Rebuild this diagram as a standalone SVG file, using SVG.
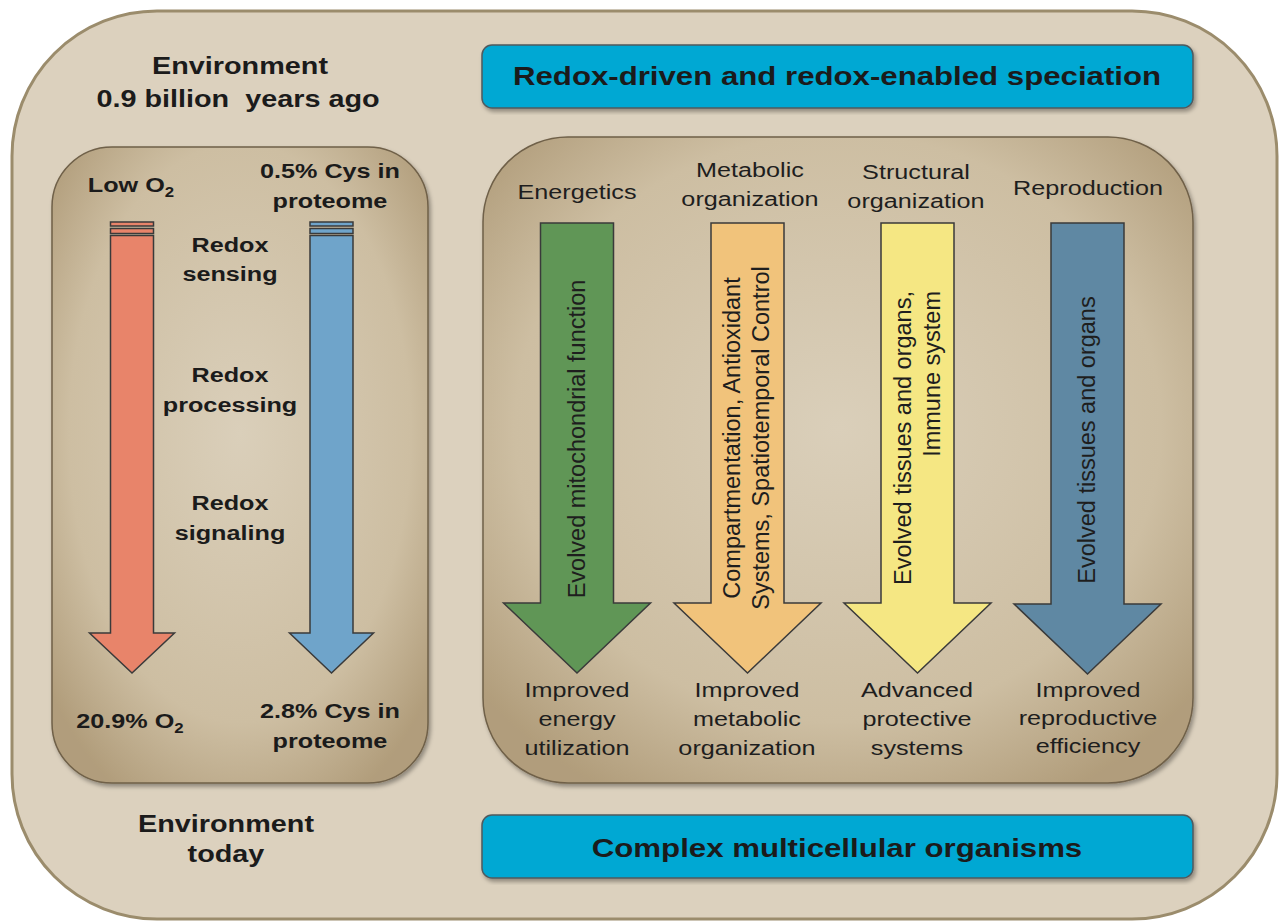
<svg xmlns="http://www.w3.org/2000/svg" width="1281" height="922" viewBox="0 0 1281 922">
<defs>
<style>
.b{font-family:"Liberation Sans",Arial,sans-serif;font-weight:bold;fill:#1b1b1b;text-anchor:middle}
.r{font-family:"Liberation Sans",Arial,sans-serif;fill:#1e1e1e;text-anchor:middle}
.arr{stroke:#3a3a3a;stroke-width:1.5;stroke-linejoin:miter}
.ban{fill:#03a8d3;stroke:#4f5a5e;stroke-width:1.5}
</style>
<radialGradient id="pg" cx="50%" cy="45%" r="65%">
<stop offset="0" stop-color="#dacfba"/>
<stop offset="0.7" stop-color="#cdbea2"/>
<stop offset="1" stop-color="#b19d7b"/>
</radialGradient>
<filter id="sh" x="-10%" y="-10%" width="120%" height="120%">
<feDropShadow dx="2" dy="3" stdDeviation="2" flood-color="#000" flood-opacity="0.35"/>
</filter>
</defs>
<rect x="0" y="0" width="1281" height="922" fill="#ffffff"/>
<g id="outer">
<rect x="12" y="11" width="1265" height="908" rx="145" ry="145" fill="#dcd1be" stroke="#9b8c6c" stroke-width="3"/>
</g>
<g id="env-past">
<text class="b" font-size="24" transform="translate(240,74) scale(1.2,1)">Environment</text>
<text class="b" font-size="24" transform="translate(238,107) scale(1.2,1)" style="white-space:pre">0.9 billion  years ago</text>
</g>
<g id="env-today">
<text class="b" font-size="24" transform="translate(226,832) scale(1.2,1)">Environment</text>
<text class="b" font-size="24" transform="translate(226,862) scale(1.2,1)">today</text>
</g>
<g id="banner-top">
<rect class="ban" x="482" y="45" width="711" height="63" rx="10" filter="url(#sh)"/>
<text class="b" font-size="26" transform="translate(837,85) scale(1.2,1)">Redox-driven and redox-enabled speciation</text>
</g>
<g id="banner-bottom">
<rect class="ban" x="482" y="815" width="711" height="63" rx="10" filter="url(#sh)"/>
<text class="b" font-size="26" transform="translate(837,857) scale(1.2,1)">Complex multicellular organisms</text>
</g>
<g id="left-panel">
<rect x="52" y="147" width="376" height="636" rx="60" fill="url(#pg)" stroke="#6f6048" stroke-width="1.5" filter="url(#sh)"/>
<text class="b" font-size="21" transform="translate(131,192) scale(1.2,1)">Low O<tspan font-size="14" dy="5">2</tspan></text>
<text class="b" font-size="21" transform="translate(330,178) scale(1.2,1)">0.5% Cys in<tspan x="0" dy="30">proteome</tspan></text>
<text class="b" font-size="21" transform="translate(230,252) scale(1.2,1)">Redox<tspan x="0" dy="29">sensing</tspan></text>
<text class="b" font-size="21" transform="translate(230,382) scale(1.2,1)">Redox<tspan x="0" dy="30">processing</tspan></text>
<text class="b" font-size="21" transform="translate(230,510) scale(1.2,1)">Redox<tspan x="0" dy="30">signaling</tspan></text>
<text class="b" font-size="21" transform="translate(130,728) scale(1.2,1)">20.9% O<tspan font-size="14" dy="5">2</tspan></text>
<text class="b" font-size="21" transform="translate(330,718) scale(1.2,1)">2.8% Cys in<tspan x="0" dy="30">proteome</tspan></text>
</g>
<g id="arrow-o2">
<rect class="arr" x="110.5" y="222" width="43" height="4" fill="#e8846a"/>
<rect class="arr" x="110.5" y="228.5" width="43" height="5" fill="#e8846a"/>
<polygon class="arr" fill="#e8846a" points="110.5,235.5 153.5,235.5 153.5,633 174.5,633 132,673 89.5,633 110.5,633"/>
</g>
<g id="arrow-cys">
<rect class="arr" x="310" y="222" width="43" height="4" fill="#6fa4ca"/>
<rect class="arr" x="310" y="228.5" width="43" height="5" fill="#6fa4ca"/>
<polygon class="arr" fill="#6fa4ca" points="310,235.5 353,235.5 353,633 373.5,633 331.5,673 289.5,633 310,633"/>
</g>
<g id="right-panel">
<rect x="483" y="137" width="710" height="646" rx="85" fill="url(#pg)" stroke="#6f6048" stroke-width="1.5" filter="url(#sh)"/>
</g>
<g id="col-energetics">
<text class="r" font-size="21" transform="translate(577,199) scale(1.2,1)">Energetics</text>
<polygon class="arr" fill="#609656" points="540.5,223 613.5,223 613.5,603 650.5,603 577,673 503.5,603 540.5,603"/>
<text class="r" font-size="23.5" transform="translate(585,439) rotate(-90)">Evolved mitochondrial function</text>
<text class="r" font-size="21" transform="translate(577,697) scale(1.2,1)">Improved<tspan x="0" dy="29">energy</tspan><tspan x="0" dy="29">utilization</tspan></text>
</g>
<g id="col-metabolic">
<text class="r" font-size="21" transform="translate(750,177) scale(1.2,1)">Metabolic<tspan x="0" dy="29">organization</tspan></text>
<polygon class="arr" fill="#f1c37b" points="711,223 784,223 784,603 821,603 747.5,673 674,603 711,603"/>
<text class="r" font-size="23.5" transform="translate(740,438) rotate(-90)">Compartmentation, Antioxidant<tspan x="0" dy="29">Systems, Spatiotemporal Control</tspan></text>
<text class="r" font-size="21" transform="translate(747,697) scale(1.2,1)">Improved<tspan x="0" dy="29">metabolic</tspan><tspan x="0" dy="29">organization</tspan></text>
</g>
<g id="col-structural">
<text class="r" font-size="21" transform="translate(916,179) scale(1.2,1)">Structural<tspan x="0" dy="29">organization</tspan></text>
<polygon class="arr" fill="#f5e783" points="881,223 954,223 954,603 991,603 917.5,673 844,603 881,603"/>
<text class="r" font-size="23.5" transform="translate(911,438) rotate(-90)">Evolved tissues and organs,</text>
<text class="r" font-size="23.5" transform="translate(940,291) rotate(-90)" style="text-anchor:end">Immune system</text>
<text class="r" font-size="21" transform="translate(917,697) scale(1.2,1)">Advanced<tspan x="0" dy="29">protective</tspan><tspan x="0" dy="29">systems</tspan></text>
</g>
<g id="col-reproduction">
<text class="r" font-size="21" transform="translate(1088,195) scale(1.2,1)">Reproduction</text>
<polygon class="arr" fill="#5f88a3" points="1051,223 1124,223 1124,604 1161,604 1087.5,674 1014,604 1051,604"/>
<text class="r" font-size="23.5" transform="translate(1095,440) rotate(-90)">Evolved tissues and organs</text>
<text class="r" font-size="21" transform="translate(1088,697) scale(1.2,1)">Improved<tspan x="0" dy="28">reproductive</tspan><tspan x="0" dy="28">efficiency</tspan></text>
</g>
<g id="connectors"></g>
</svg>
